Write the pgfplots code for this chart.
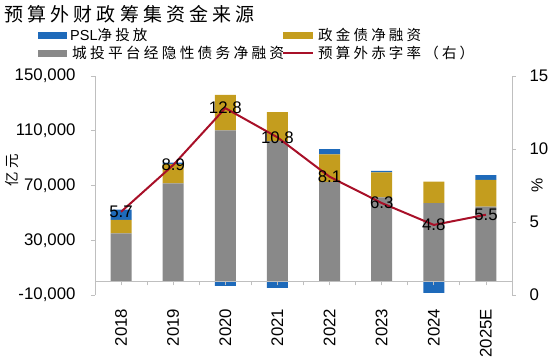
\documentclass[border=0pt]{standalone}
\usepackage{pgfplots}
\pgfplotsset{compat=1.18}
\usepackage{fontspec}
\setmainfont{Liberation Sans}
\newfontfamily\cjk[LetterSpace=22]{Noto Sans CJK SC}
\definecolor{cblue}{RGB}{30,106,186}
\definecolor{cgold}{RGB}{196,157,30}
\definecolor{cgray}{RGB}{137,137,137}
\definecolor{cred}{RGB}{168,16,40}
\definecolor{caxis}{RGB}{191,191,191}
\begin{document}
\begin{tikzpicture}
\path[use as bounding box] (0pt,0pt) rectangle (550pt,360pt);
% title
\node[anchor=west, inner sep=0] at (4pt,346pt) {\cjk\fontsize{19}{19}\selectfont 预算外财政筹集资金来源};
% legend
\fill[cblue] (38pt,321.5pt) rectangle (67pt,328.5pt);
\node[anchor=west,inner sep=0] at (70pt,325pt) {\fontsize{14.5}{15}\selectfont PSL{\cjk 净投放}};
\fill[cgold] (283pt,321.5pt) rectangle (313pt,328.5pt);
\node[anchor=west,inner sep=0] at (318pt,325pt) {\cjk\fontsize{14.5}{15}\selectfont 政金债净融资};
\fill[cgray] (38pt,303.5pt) rectangle (67pt,310.5pt);
\node[anchor=west,inner sep=0] at (72pt,307pt) {\cjk\fontsize{14.7}{15}\selectfont 城投平台经隐性债务净融资};
\draw[cred, line width=2pt] (283pt,307pt) -- (313pt,307pt);
\node[anchor=west,inner sep=0] at (318pt,307pt) {\cjk\fontsize{14.5}{15}\selectfont 预算外赤字率（右）};
% axis labels
\node[rotate=90, inner sep=0] at (12pt,190pt) {\cjk\fontsize{14.5}{15}\selectfont 亿元};
\node[rotate=90, inner sep=0] at (537pt,175pt) {\fontsize{16}{16}\selectfont \%};

% negative PSL bars
\begin{axis}[at={(95pt,65pt)}, anchor=south west, scale only axis,
  width=417pt, height=219pt, xmin=-0.5, xmax=7.5, ymin=-10000, ymax=150000,
  hide axis, ybar, bar width=21pt]
\addplot[fill=cblue, draw=none] coordinates {(0,0) (1,0) (2,-3400) (3,-4800) (4,0) (5,0) (6,-8500) (7,0)};
\end{axis}

% main stacked axis
\begin{axis}[at={(95pt,65pt)}, anchor=south west, scale only axis,
  width=417pt, height=219pt, xmin=-0.5, xmax=7.5, ymin=-10000, ymax=150000,
  ybar stacked, bar width=21pt,
  axis y line*=left, axis x line*=middle,
  axis line style={caxis, line width=0.8pt},
  tick style={caxis, line width=0.8pt}, tick align=outside,
  major tick length=4pt, minor tick length=4pt,
  ytick={-10000,30000,70000,110000,150000},
  scaled y ticks=false,
  yticklabel style={xshift=-12pt, /pgf/number format/.cd, fixed, 1000 sep={,}, assume math mode=true},
  xtick={0,...,7}, minor xtick={-0.5,0.5,...,7.5},
  xticklabels={2018,2019,2020,2021,2022,2023,2024,2025E},
  xticklabel style={rotate=90, anchor=east, xshift=-20pt},
  ticklabel style={font=\fontsize{16.8}{17}\selectfont, text=black},
  axis on top]
\addplot[fill=cgray, draw=none] coordinates {(0,35100) (1,71500) (2,110300) (3,102500) (4,72700) (5,61300) (6,57200) (7,54500)};
\addplot[fill=cgold, draw=none] coordinates {(0,9800) (1,14100) (2,25900) (3,21100) (4,20100) (5,18200) (6,15700) (7,19700)};
\addplot[fill=cblue, draw=none] coordinates {(0,7400) (1,1100) (2,0) (3,0) (4,3700) (5,1200) (6,0) (7,3400)};
\end{axis}

% right axis with deficit line
\begin{axis}[at={(95pt,65pt)}, anchor=south west, scale only axis,
  width=417pt, height=219pt, xmin=-0.5, xmax=7.5, ymin=0, ymax=15,
  axis y line*=right, axis x line=none,
  axis line style={caxis, line width=0.8pt},
  tick style={caxis, line width=0.8pt}, tick align=outside,
  major tick length=4pt,
  ytick={0,5,10,15},
  yticklabel style={xshift=10pt, /pgf/number format/assume math mode=true},
  ticklabel style={font=\fontsize{16.8}{17}\selectfont, text=black}]
\addplot[cred, line width=2pt, mark=none,
  nodes near coords,
  every node near coord/.append style={anchor=center, text=black, font=\fontsize{16.8}{17}\selectfont,
    /pgf/number format/.cd, fixed, fixed zerofill, precision=1, assume math mode=true}]
  coordinates {(0,5.7) (1,8.9) (2,12.8) (3,10.8) (4,8.1) (5,6.3) (6,4.8) (7,5.5)};
\end{axis}
\end{tikzpicture}
\end{document}
